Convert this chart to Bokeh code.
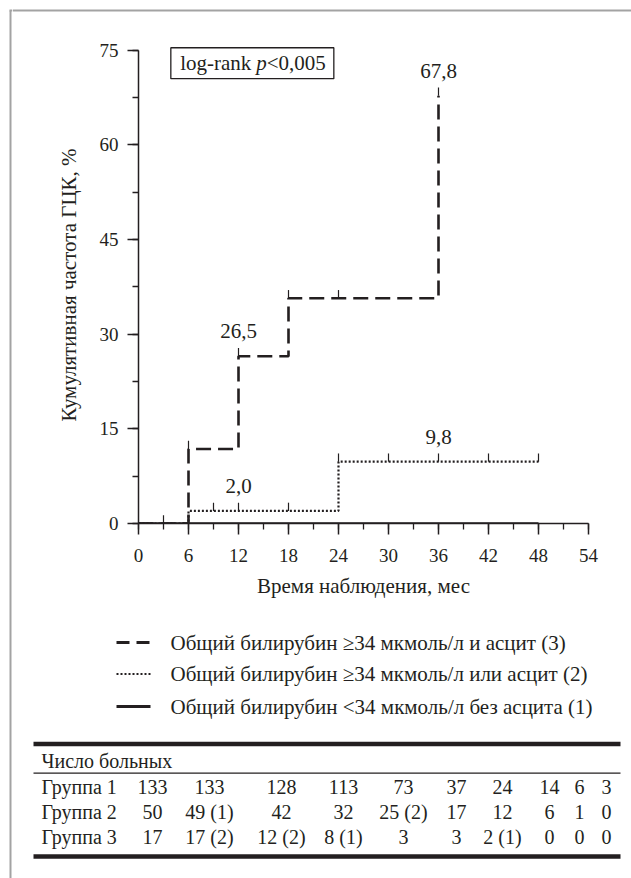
from bokeh.plotting import figure
from bokeh.layouts import column, row
from bokeh.models import (Range1d, SingleIntervalTicker, LinearAxis, BoxAnnotation,
                          Label, ColumnDataSource)
from bokeh.embed import file_html
from bokeh.resources import INLINE
from bokeh.core.properties import value

# ---------------- data ----------------
# group 3: bilirubin >=34 and ascites (dashed)
g3_times = [0, 6, 12, 18, 36]
g3_cum = [0.0, 11.8, 26.5, 35.7, 67.8]
g3_end = 36
g3_censor = [6, 12, 18, 24, 36]

# group 2: bilirubin >=34 or ascites (dotted)
g2_times = [0, 6, 24]
g2_cum = [0.0, 2.0, 9.8]
g2_end = 48
g2_censor = [9, 12, 18, 24, 30, 36, 42, 48]

# group 1: bilirubin <34 without ascites (solid)
g1_times = [0]
g1_cum = [0.0]
g1_end = 48
g1_censor = [3]

annot_times = [36, 12, 36, 12]
annot_values = [67.8, 26.5, 9.8, 2.0]

x_tick_step = 6
y_tick_step = 15
x_max = 54
y_max = 75

legend_labels = [
    "Общий билирубин ≥34 мкмоль/л и асцит (3)",
    "Общий билирубин ≥34 мкмоль/л или асцит (2)",
    "Общий билирубин <34 мкмоль/л без асцита (1)",
]

table_title = "Число больных"
row_names = ["Группа 1", "Группа 2", "Группа 3"]
risk_g1 = ["133", "133", "128", "113", "73", "37", "24", "14", "6", "3"]
risk_g2 = ["50", "49 (1)", "42", "32", "25 (2)", "17", "12", "6", "1", "0"]
risk_g3 = ["17", "17 (2)", "12 (2)", "8 (1)", "3", "3", "2 (1)", "0", "0", "0"]

# ---------------- styles / layout ----------------
INK = "#231f20"
BORDER = "#a3a3a3"
SERIF = "Liberation Serif"
W = 631
H = 878
OFF = 12            # width of border strips
H_TOP = 610
Y_TOP = 75.6        # small headroom above the 75 tick for the log-rank box
DASH3 = "15 7"
DOT2 = "2 2"
CENSOR_LEN = 1.3    # data units (~8 px)

col_x = [152, 209, 281, 343, 403, 456, 502, 549, 579, 606]
row_y = [786, 811, 836]


def no_align(fig):
    try:
        fig.frame_align = False
    except Exception:
        pass
    return fig


def step_xy(times, cums, end):
    xs, ys = [], []
    for i, (t, c) in enumerate(zip(times, cums)):
        if i > 0:
            xs.append(t)
            ys.append(cums[i - 1])
        xs.append(t)
        ys.append(c)
    if end > times[-1]:
        xs.append(end)
        ys.append(cums[-1])
    return xs, ys


def level_at(times, cums, t):
    v = cums[0]
    for tt, c in zip(times, cums):
        if tt <= t:
            v = c
    return v


def censor_src(times, cums, cens):
    lv = [level_at(times, cums, t) for t in cens]
    return ColumnDataSource(dict(x0=cens, y0=lv, x1=cens, y1=[v + CENSOR_LEN for v in lv]))


def blank(width, height, xr, yr):
    f = figure(width=width, height=height, x_range=xr, y_range=yr, x_axis_type=None,
               y_axis_type=None, toolbar_location=None, output_backend="svg", min_border=0)
    f.outline_line_color = None
    f.background_fill_color = "white"
    f.border_fill_color = "white"
    return no_align(f)


# ---------------- page border strips ----------------
L = blank(OFF, H, Range1d(0, OFF), Range1d(H, 0))
L.line([10, 10], [10, H], line_color=BORDER, line_width=2)
L.line([9, OFF], [10, 10], line_color=BORDER, line_width=2)
T = blank(W - OFF, OFF, Range1d(OFF, W), Range1d(OFF, 0))
T.line([OFF, W], [10, 10], line_color=BORDER, line_width=2)

# ---------------- chart ----------------
p = figure(width=W - OFF, height=H_TOP - OFF, x_range=Range1d(0, x_max),
           y_range=Range1d(0, Y_TOP), x_axis_type=None, y_axis_type=None,
           toolbar_location=None, output_backend="svg",
           min_border_left=138 - OFF, min_border_right=43, min_border_top=46 - OFF,
           min_border_bottom=87)
p.outline_line_color = None
p.background_fill_color = "white"
p.border_fill_color = "white"
no_align(p)

xaxis = LinearAxis(ticker=SingleIntervalTicker(interval=x_tick_step, num_minor_ticks=2),
                   axis_label="Время наблюдения, мес")
yaxis = LinearAxis(ticker=SingleIntervalTicker(interval=y_tick_step, num_minor_ticks=2),
                   axis_label="Кумулятивная частота ГЦК, %", bounds=(0, y_max))
for ax in (xaxis, yaxis):
    ax.axis_line_color = INK
    ax.axis_line_width = 1.5
    ax.major_tick_line_color = INK
    ax.major_tick_line_width = 1.5
    ax.major_tick_in = 0
    ax.major_tick_out = 11
    ax.minor_tick_line_color = INK
    ax.minor_tick_line_width = 1.3
    ax.minor_tick_in = 0
    ax.minor_tick_out = 6
    ax.major_label_text_font = SERIF
    ax.major_label_text_font_size = "19px"
    ax.major_label_text_color = INK
    ax.axis_label_text_font = SERIF
    ax.axis_label_text_font_size = "21px"
    ax.axis_label_text_font_style = "normal"
    ax.axis_label_text_color = INK
xaxis.major_label_standoff = 14
xaxis.axis_label_standoff = 9
yaxis.major_label_standoff = 9
yaxis.axis_label_standoff = 16
p.add_layout(xaxis, "below")
p.add_layout(yaxis, "left")

# curves
x1, y1 = step_xy(g1_times, g1_cum, g1_end)
p.line(x1, y1, line_color=INK, line_width=2.5)
x2, y2 = step_xy(g2_times, g2_cum, g2_end)
p.line(x2, y2, line_color=INK, line_width=2.2, line_dash=DOT2)
x3, y3 = step_xy(g3_times, g3_cum, g3_end)
p.line(x3, y3, line_color=INK, line_width=2.6, line_dash=DASH3)

for times, cums, cens in ((g1_times, g1_cum, g1_censor),
                          (g2_times, g2_cum, g2_censor),
                          (g3_times, g3_cum, g3_censor)):
    p.segment(x0="x0", y0="y0", x1="x1", y1="y1", source=censor_src(times, cums, cens),
              line_color=INK, line_width=1.2)

p.text(x=annot_times, y=annot_values,
       text=[f"{v:.1f}".replace(".", ",") for v in annot_values],
       text_align="center", text_baseline="middle", y_offset=-25,
       text_font=value(SERIF), text_font_size="21px", text_color=INK)

# log-rank box
p.add_layout(BoxAnnotation(left=3.88, right=23.44, top=75.4, bottom=70.5,
                           fill_alpha=0, line_color=INK, line_alpha=1, line_width=1.3))
for txt, off, style in (("log-rank", 0, "normal"), ("p", 76, "italic"), ("<0,005", 86.5, "normal")):
    p.add_layout(Label(x=5, y=73, x_offset=off, text=txt, text_font=SERIF, text_font_size="21px",
                       text_font_style=style, text_color=INK, text_baseline="middle",
                       text_align="left"))

# ---------------- legend + table ----------------
q = blank(W - OFF, H - H_TOP, Range1d(OFF, W), Range1d(H, H_TOP))

leg_y = [642, 673.5, 706]
leg_styles = [dict(line_width=3, line_dash="13 7"),
              dict(line_width=2, line_dash="2 2"),
              dict(line_width=3, line_dash="solid")]
for yy, st in zip(leg_y, leg_styles):
    q.line([116, 150], [yy, yy], line_color=INK, **st)
q.text(x=[170] * 3, y=leg_y, text=legend_labels, text_align="left", text_baseline="middle",
       text_font=value(SERIF), text_font_size="21px", text_color=INK)

# table rules
q.line([33, 620], [743.5, 743.5], line_color=INK, line_width=4.5)
q.line([33, 620], [772.7, 772.7], line_color=INK, line_width=1.2)
q.line([33, 620], [856, 856], line_color=INK, line_width=4.5)

q.text(x=[41], y=[760], text=[table_title], text_align="left", text_baseline="middle",
       text_font=value(SERIF), text_font_size="20px", text_color=INK)
q.text(x=[41] * 3, y=row_y, text=row_names, text_align="left", text_baseline="middle",
       text_font=value(SERIF), text_font_size="20px", text_color=INK)

cells = dict(x=[], y=[], t=[])
for yy, rvals in zip(row_y, (risk_g1, risk_g2, risk_g3)):
    for xx, v in zip(col_x, rvals):
        cells["x"].append(xx)
        cells["y"].append(yy)
        cells["t"].append(v)
q.text(x="x", y="y", text="t", source=ColumnDataSource(cells), text_align="center",
       text_baseline="middle", text_font=value(SERIF), text_font_size="20px", text_color=INK)

layout = row(L, column(T, p, q, spacing=0), spacing=0)
open("out.html", "w").write(file_html(layout, INLINE))
